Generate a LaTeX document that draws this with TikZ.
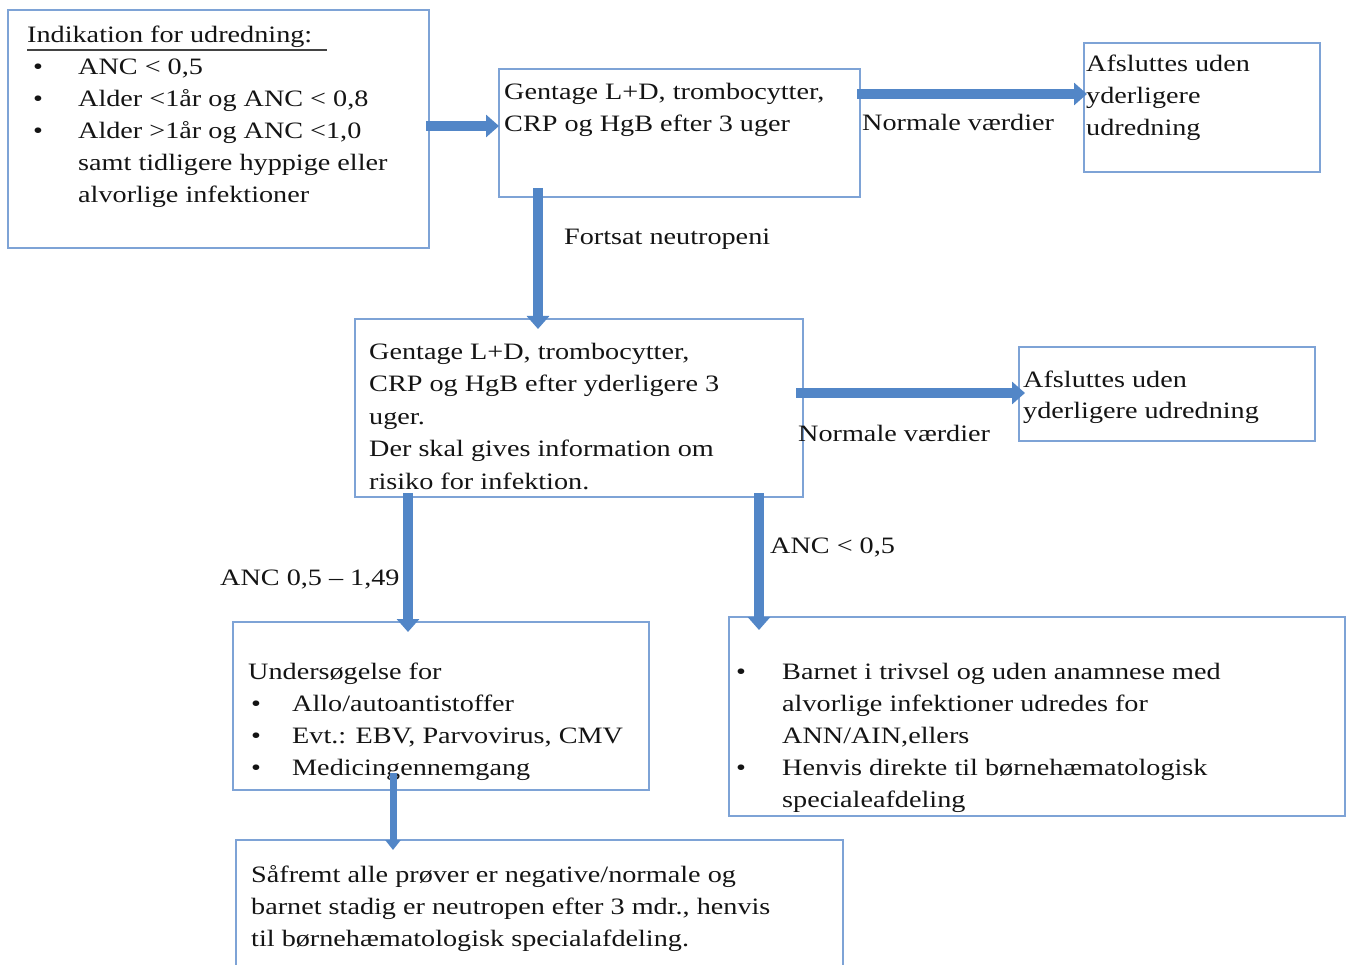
\documentclass[tikz,border=0pt]{standalone}
\usepackage{fontspec}
\setmainfont[FakeStretch=1.2]{Liberation Serif}
\usetikzlibrary{arrows.meta,calc}
\definecolor{boxblue}{RGB}{126,163,214}
\definecolor{arrblue}{RGB}{82,134,199}
\definecolor{txtcol}{RGB}{20,20,20}
\begin{document}
\begin{tikzpicture}[x=1pt,y=-1pt,
  box/.style={draw=boxblue, line width=1.6pt, anchor=north west, inner sep=0pt, outer sep=0pt},
  txt/.style={anchor=north west, inner sep=0pt, align=left, text=txtcol, font=\fontsize{23.5}{32}\selectfont},
  lbl/.style={anchor=base west, inner sep=0pt, text=txtcol, font=\fontsize{23.5}{32}\selectfont},
  arr/.style={draw=arrblue, line width=10pt, -{Triangle[width=22pt,length=13pt]}},
  thinarr/.style={draw=arrblue, line width=7pt, -{Triangle[width=15pt,length=10pt]}}]
\useasboundingbox (0,0) rectangle (1347,965);
\newcommand{\fs}{\rule{0pt}{20pt}}
% boxes
\node[box, minimum width=421pt, minimum height=238pt] (b1) at (8,10) {};
\node[box, minimum width=361pt, minimum height=128pt] (b2) at (499,69) {};
\node[box, minimum width=236pt, minimum height=129pt] (b3) at (1084,43) {};
\node[box, minimum width=448pt, minimum height=178pt] (b4) at (355,319) {};
\node[box, minimum width=296pt, minimum height=94pt] (b5) at (1019,347) {};
\node[box, minimum width=416pt, minimum height=168pt] (b6) at (233,622) {};
\node[box, minimum width=616pt, minimum height=199pt] (b7) at (729,617) {};
\node[box, minimum width=607pt, minimum height=150pt] (b8) at (236,840) {};
% texts
\node[txt] (t1) at (27,22) {\fs Indikation for udredning:\\
\hspace*{6pt}\makebox[45pt][l]{\textbullet}ANC < 0,5\\
\hspace*{6pt}\makebox[45pt][l]{\textbullet}Alder <1år og ANC < 0,8\\
\hspace*{6pt}\makebox[45pt][l]{\textbullet}Alder >1år og ANC <1,0\\
\hspace*{51pt}samt tidligere hyppige eller\\
\hspace*{51pt}alvorlige infektioner};
\node[txt] (t2) at (504,79) {\fs Gentage L+D, trombocytter,\\CRP og HgB efter 3 uger};
\node[txt] (t3) at (1086,51) {\fs Afsluttes uden\\yderligere\\udredning};
\node[txt, font=\fontsize{23.5}{32.5}\selectfont] (t4) at (369,339) {\fs Gentage L+D, trombocytter,\\CRP og HgB efter yderligere 3\\uger.\\Der skal gives information om\\risiko for infektion.};
\node[txt, font=\fontsize{23.5}{31}\selectfont] (t5) at (1023,367) {\fs Afsluttes uden\\yderligere udredning};
\node[txt] (t6) at (248,659) {\fs Undersøgelse for\\
\hspace*{3pt}\makebox[41pt][l]{\textbullet}Allo/autoantistoffer\\
\hspace*{3pt}\makebox[41pt][l]{\textbullet}Evt.: EBV, Parvovirus, CMV\\
\hspace*{3pt}\makebox[41pt][l]{\textbullet}Medicingennemgang};
\node[txt] (t7) at (736,659) {\fs\makebox[46pt][l]{\textbullet}Barnet i trivsel og uden anamnese med\\
\hspace*{46pt}alvorlige infektioner udredes for\\
\hspace*{46pt}ANN/AIN,ellers\\
\makebox[46pt][l]{\textbullet}Henvis direkte til børnehæmatologisk\\
\hspace*{46pt}specialeafdeling};
\node[txt] (t8) at (251,862) {\fs Såfremt alle prøver er negative/normale og\\barnet stadig er neutropen efter 3 mdr., henvis\\til børnehæmatologisk specialafdeling.};
% labels
\node[lbl] (l1) at (862,131) {Normale værdier};
\node[lbl] (l2) at (564,245) {Fortsat neutropeni};
\node[lbl] (l3) at (798,442) {Normale værdier};
\node[lbl] (l4) at (770,553) {ANC < 0,5};
\node[lbl] (l5) at (220,585) {ANC 0,5 – 1,49};
% underline of title
\draw[line width=1.2pt, draw=txtcol!80] ($(t1.north west)+(0,28)$) -- ($(t1.north west)+(300,28)$);
% arrows
\draw[arr] ($(b1.north east)+(-3,116)$) -- ($(b2.north west)+(0,57)$);
\draw[arr] ($(b2.north east)+(-3,25)$) -- ($(b3.north west)+(3,51)$);
\draw[arr] ($(b2.south west)+(39,-9)$) -- ($(b4.north west)+(183,10)$);
\draw[arr] ($(b4.north east)+(-7,74)$) -- ($(b5.north west)+(6,46)$);
\draw[arr] ($(b4.south west)+(53,-4)$) -- ($(b6.north west)+(175,10)$);
\draw[arr] ($(b4.south east)+(-44,-4)$) -- ($(b7.north west)+(30,13)$);
\draw[thinarr] ($(b6.south west)+(160,-17)$) -- ($(b8.north west)+(157,10)$);
\end{tikzpicture}
\end{document}
